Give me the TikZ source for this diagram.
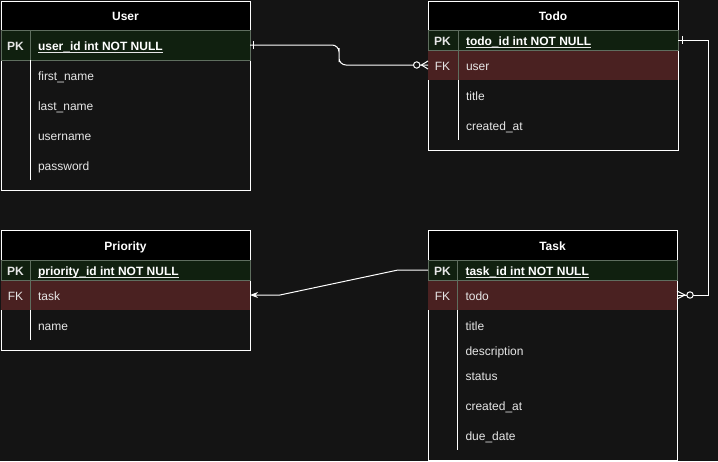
\documentclass[tikz,border=0pt]{standalone}
\usepackage{fontspec}
\setmainfont{Liberation Sans}
\usetikzlibrary{calc,arrows.meta}
\definecolor{bg}{HTML}{141414}
\definecolor{pkfill}{HTML}{10200F}
\definecolor{fkfill}{HTML}{4A2121}
\definecolor{keyline}{HTML}{5F6E5F}
\definecolor{txt}{HTML}{E6E6E6}
\tikzset{
  rect/.style={anchor=north west, inner sep=0pt, outer sep=0pt, line width=1pt},
  tbl/.style={rect, draw=white, fill=bg},
  hdr/.style={rect, draw=white, fill=black},
  pkrow/.style={rect, draw=keyline, fill=pkfill},
  fkrow/.style={rect, fill=fkfill},
  lbl/.style={inner sep=0pt, outer sep=0pt, text=txt, font=\fontsize{12}{14}\selectfont},
  hlbl/.style={lbl, anchor=base, text=white, font=\fontsize{12}{14}\selectfont\bfseries},
  klbl/.style={lbl, anchor=base},
  pklbl/.style={lbl, anchor=base, font=\fontsize{12}{14}\selectfont\bfseries},
  flbl/.style={lbl, anchor=base west},
  pkname/.style={lbl, anchor=base west, text=white, font=\fontsize{12}{14}\selectfont\bfseries},
  uline/.style={draw=txt, line width=1pt},
  divk/.style={draw=keyline, line width=1pt},
  divw/.style={draw=white, line width=1pt},
  conn/.style={draw=white, line width=1pt},
}
\begin{document}
\begin{tikzpicture}[x=1pt,y=-1pt]
\fill[bg] (0,0) rectangle (718,461);
\useasboundingbox (0,0) rectangle (718,461);

% ---------------- User ----------------
\node[tbl, minimum width=249pt, minimum height=189pt] (user) at (1,1) {};
\node[hdr, minimum width=249pt, minimum height=29pt] (userH) at (1,1) {};
\node[pkrow, minimum width=249pt, minimum height=30pt] (userPK) at (1,30) {};
\draw[divk] (30.5,30) -- (30.5,60);
\draw[divw] (30.5,60) -- (30.5,180);
\node[hlbl] (userT) at (125.5,20.5) {User};
\node[pklbl] (userPKk) at (15.5,50.5) {PK};
\node[pkname] (userPKn) at (38,50.5) {user\_id int NOT NULL};
\draw[uline] ($(userPKn.base west)+(0,2)$) -- ($(userPKn.base east)+(0,2)$);
\node[flbl] (userF1) at (38,80.5) {first\_name};
\node[flbl] (userF2) at (38,110.5) {last\_name};
\node[flbl] (userF3) at (38,140.5) {username};
\node[flbl] (userF4) at (38,170.5) {password};

% ---------------- Todo ----------------
\node[tbl, minimum width=250pt, minimum height=149pt] (todo) at (428,1) {};
\node[hdr, minimum width=250pt, minimum height=29pt] (todoH) at (428,1) {};
\node[fkrow, minimum width=250pt, minimum height=30pt] (todoFK) at (428,50) {};
\node[pkrow, minimum width=250pt, minimum height=20pt] (todoPK) at (428,30) {};
\draw[divk] (458,30) -- (458,80);
\draw[divw] (458,80) -- (458,140);
\node[hlbl] (todoT) at (553,20.5) {Todo};
\node[pklbl] (todoPKk) at (442.5,45.5) {PK};
\node[pkname] (todoPKn) at (466,45.5) {todo\_id int NOT NULL};
\draw[uline] ($(todoPKn.base west)+(0,2)$) -- ($(todoPKn.base east)+(0,2)$);
\node[klbl] (todoFKk) at (442.5,70.5) {FK};
\node[flbl] (todoFKn) at (466,70.5) {user};
\node[flbl] (todoF1) at (466,100.5) {title};
\node[flbl] (todoF2) at (466,130.5) {created\_at};

% ---------------- Priority ----------------
\node[tbl, minimum width=249pt, minimum height=120pt] (prio) at (1,230) {};
\node[hdr, minimum width=249pt, minimum height=30pt] (prioH) at (1,230) {};
\node[fkrow, minimum width=249pt, minimum height=30pt] (prioFK) at (1,280) {};
\node[pkrow, minimum width=249pt, minimum height=20pt] (prioPK) at (1,260) {};
\draw[divk] (30.5,260) -- (30.5,310);
\draw[divw] (30.5,310) -- (30.5,340);
\node[hlbl] (prioT) at (125.5,250.5) {Priority};
\node[pklbl] (prioPKk) at (15.5,275.5) {PK};
\node[pkname] (prioPKn) at (38,275.5) {priority\_id int NOT NULL};
\draw[uline] ($(prioPKn.base west)+(0,2)$) -- ($(prioPKn.base east)+(0,2)$);
\node[klbl] (prioFKk) at (15.5,300.5) {FK};
\node[flbl] (prioFKn) at (38,300.5) {task};
\node[flbl] (prioF1) at (38,330.5) {name};

% ---------------- Task ----------------
\node[tbl, minimum width=249pt, minimum height=230pt] (task) at (428,230) {};
\node[hdr, minimum width=249pt, minimum height=30pt] (taskH) at (428,230) {};
\node[fkrow, minimum width=249pt, minimum height=30pt] (taskFK) at (428,280) {};
\node[pkrow, minimum width=249pt, minimum height=20pt] (taskPK) at (428,260) {};
\draw[divk] (457.5,260) -- (457.5,310);
\draw[divw] (457.5,310) -- (457.5,450);
\node[hlbl] (taskT) at (552.5,250.5) {Task};
\node[pklbl] (taskPKk) at (442.5,275.5) {PK};
\node[pkname] (taskPKn) at (465.5,275.5) {task\_id int NOT NULL};
\draw[uline] ($(taskPKn.base west)+(0,2)$) -- ($(taskPKn.base east)+(0,2)$);
\node[klbl] (taskFKk) at (442.5,300.5) {FK};
\node[flbl] (taskFKn) at (465.5,300.5) {todo};
\node[flbl] (taskF1) at (465.5,330) {title};
\node[flbl] (taskF2) at (465.5,355.5) {description};
\node[flbl] (taskF3) at (465.5,380.5) {status};
\node[flbl] (taskF4) at (465.5,410.5) {created\_at};
\node[flbl] (taskF5) at (465.5,440.5) {due\_date};

% ---------------- Connectors ----------------
% User -> Todo (one to zero-or-many)
\draw[conn, rounded corners=7pt] (userPK.east) -| ($(userPK.east)!0.5!(todoFK.west)$) |- (todoFK.west);
\draw[conn] ($(userPK.east)+(3.5,-4)$) -- ($(userPK.east)+(3.5,4)$);
\draw[conn] ($(todoFK.west)+(0,-4)$) -- ($(todoFK.west)+(-6.5,0)$) -- ($(todoFK.west)+(0,4)$);
\draw[conn, fill=bg] ($(todoFK.west)+(-11.3,0)$) circle[radius=3.2];

% Todo -> Task (one to zero-or-many)
\draw[conn] (todoPK.east) -- ++(30,0) |- (taskFK.east);
\draw[conn] ($(todoPK.east)+(4,-4)$) -- ($(todoPK.east)+(4,4)$);
\draw[conn] ($(taskFK.east)+(0,-4)$) -- ($(taskFK.east)+(8,0)$) -- ($(taskFK.east)+(0,4)$);
\draw[conn, fill=bg] ($(taskFK.east)+(13,0)$) circle[radius=3.2];

% Task -> Priority
\draw[conn, -{Stealth[length=8pt,width=6pt]}] (taskPK.west) -- ++(-30,0) -- ($(prioFK.east)+(30,0)$) -- (prioFK.east);
\end{tikzpicture}
\end{document}
